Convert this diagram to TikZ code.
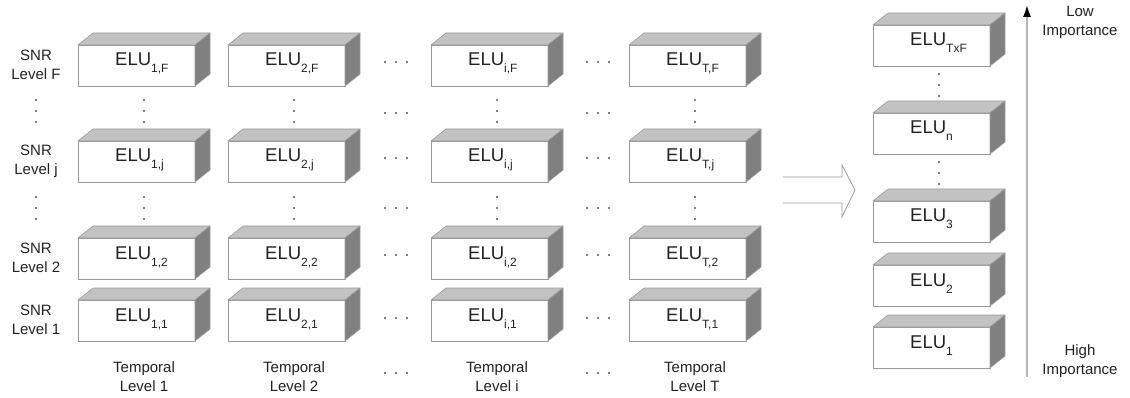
\documentclass[tikz,border=0pt]{standalone}
\usepackage{fontspec}
\setmainfont{Liberation Sans}
\usetikzlibrary{arrows.meta}

\definecolor{edgegray}{HTML}{9A9A9A}
\definecolor{topgray}{HTML}{C2C2C2}
\definecolor{sidegray}{HTML}{808080}
\definecolor{inkgray}{HTML}{222222}
\definecolor{dotgray}{HTML}{505050}
\definecolor{axisgray}{HTML}{B4B4B4}

\tikzset{
  frontface/.style={draw=edgegray, fill=white, line width=0.9pt,
    minimum width=117pt, minimum height=41pt, inner sep=0pt, outer sep=0pt},
  topface/.style={fill=topgray, draw=edgegray, line width=0.6pt, line join=round},
  sideface/.style={fill=sidegray, draw=edgegray, line width=0.6pt, line join=round},
  elutext/.style={inner sep=0pt, text=inkgray, font=\fontsize{18.5}{18.5}\selectfont},
  levellabel/.style={text=inkgray, align=center, inner sep=0pt,
    font=\fontsize{15}{19}\selectfont},
  dotmark/.style={fill=dotgray},
  hollowarrow/.style={draw=edgegray, line width=0.8pt, line join=miter},
  importance/.style={draw=axisgray, line width=1.6pt,
    -{Latex[length=12pt,width=8pt,color=black]}},
}

% subscript of an ELU label
\newcommand\elusub[1]{\raisebox{-7pt}{\fontsize{12}{12}\selectfont #1}}

% a 3-D ELU block: name, left x, top y of the front face, subscript
\newcommand\elubox[4]{%
  \node[frontface, anchor=north west] (#1) at (#2,#3) {};
  \filldraw[topface] (#1.north west) -- ++(15,-12) -- ++(117,0) -- (#1.north east) -- cycle;
  \filldraw[sideface] (#1.north east) -- ++(15,-12) -- ++(0,41) -- (#1.south east) -- cycle;
  \node[elutext, anchor=base west] (#1-lbl) at ([xshift=37pt,yshift=-21pt]#1.north west) {ELU\elusub{#4}};
}

% three dots in a column or a row
\newcommand\coldots[2]{\foreach \d in {-11,0,11} \fill[dotmark] (#1,#2+\d) circle (1.2pt);}
\newcommand\rowdots[2]{\foreach \d in {-11,0,11} \fill[dotmark] (#1+\d,#2) circle (1.2pt);}

\begin{document}
\begin{tikzpicture}[x=1pt, y=-1pt]
  \useasboundingbox (0,0) rectangle (1130,398);
  \fill[white] (0,0) rectangle (1130,398);

  % grid of ELU blocks: temporal level (columns) x SNR level (rows)
  \foreach \c/\x in {1/78, 2/228, i/431, T/629}{
    \foreach \r/\y in {F/45, j/141, 2/238, 1/300}{
      \elubox{e\c-\r}{\x}{\y}{\c,\r}
    }
  }

  % SNR level labels
  \foreach \r/\y in {F/45, j/141, 2/238, 1/300}
    \node[levellabel] (snr-\r) at (36,\y+20) {SNR\\Level \r};

  % temporal level labels
  \foreach \c/\x in {1/78, 2/228, i/431, T/629}
    \node[levellabel] (tmp-\c) at (\x+66,377) {Temporal\\Level \c};

  % vertical ellipses between the SNR rows
  \foreach \x in {36, 144, 294, 497, 695}{
    \coldots{\x}{111}
    \coldots{\x}{208}
  }

  % horizontal ellipses between the temporal columns
  \foreach \y in {62, 113, 158, 208, 255, 318, 373}{
    \rowdots{396}{\y}
    \rowdots{598}{\y}
  }

  % hollow arrow towards the ordered list (open at its tail)
  \coordinate (ha-tail) at (783,190);
  \coordinate (ha-tip) at (855,190);
  \draw[hollowarrow] ([yshift=13pt]ha-tail) -- ++(59,0) -- ++(0,-12) -- (ha-tip)
    -- ([xshift=-13pt,yshift=-27pt]ha-tip) -- ++(0,-14) -- ++(-59,0);

  % ordered list of ELUs
  \elubox{r-TxF}{873}{25}{TxF}
  \elubox{r-n}{873}{113}{n}
  \elubox{r-3}{873}{201}{3}
  \elubox{r-2}{873}{265}{2}
  \elubox{r-1}{873}{327}{1}
  \coldots{939}{85}
  \coldots{939}{173}

  % importance axis
  \coordinate (imp-high) at (1027,377);
  \coordinate (imp-low) at (1027,5);
  \draw[importance] (imp-high) -- (imp-low);
  \node[levellabel] (low-lbl) at (1080,22) {Low\\Importance};
  \node[levellabel] (high-lbl) at (1080,361) {High\\Importance};
\end{tikzpicture}
\end{document}
